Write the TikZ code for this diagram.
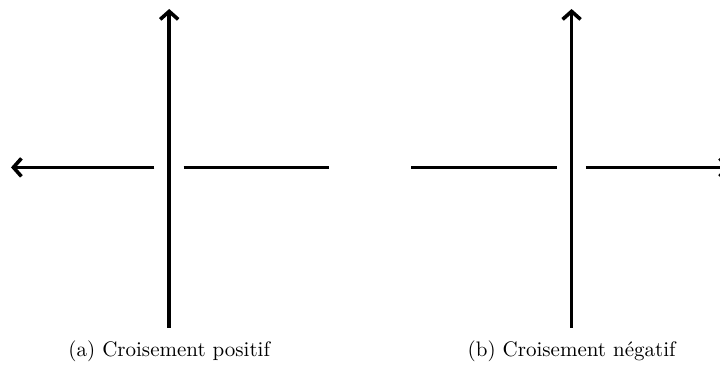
\documentclass[tikz,border=0pt]{standalone}
\usetikzlibrary{arrows.meta}
\begin{document}
\begin{tikzpicture}[x=20pt,y=20pt,
        brin/.style={line width=1.8pt},
        fleche/.style={brin,-{Straight Barb[length=4pt,width=9pt,line width=1.8pt]}}]
        \useasboundingbox (0,0) rectangle (18,9.325);
        \draw[fleche] (4.23,1.13) -- (4.23,9.1);
        \draw[fleche] (3.86,5.14) -- (0.275,5.14);
        \draw[brin] (4.59,5.14) -- (8.22,5.14);
        \draw (4.23,0.4) node[anchor=base,scale=1.05] (legA) {(a) Croisement positif};
        \draw[fleche] (14.29,1.13) -- (14.29,9.1);
        \draw[brin] (10.28,5.14) -- (13.92,5.14);
        \draw[fleche] (14.65,5.14) -- (18.25,5.14);
        \draw (14.29,0.4) node[anchor=base,scale=1.05] (legB) {(b) Croisement négatif};
    \end{tikzpicture}
\end{document}
